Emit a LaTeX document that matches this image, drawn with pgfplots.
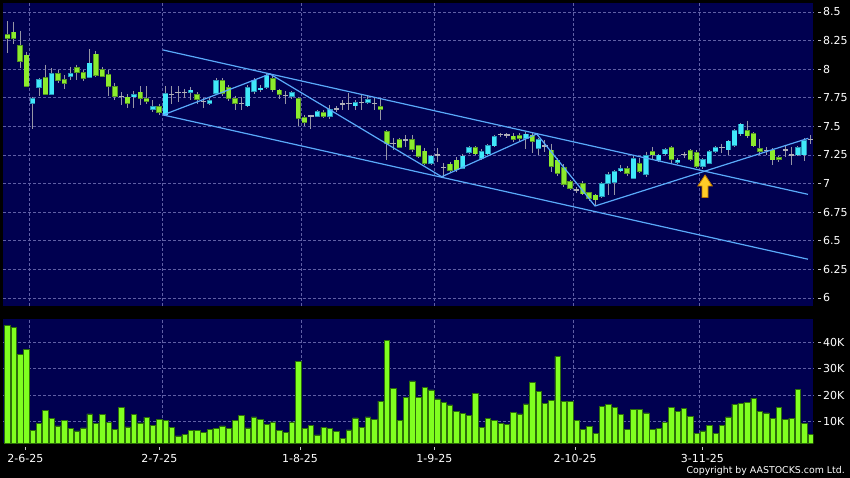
\documentclass[border=0pt]{standalone}
\usepackage{fontspec}
\setmainfont{DejaVu Sans}
\usepackage{pgfplots}
\usepackage{pgfplotstable}
\pgfplotsset{compat=1.18}
\definecolor{navy}{RGB}{0,0,80}
\definecolor{gridc}{RGB}{95,95,165}
\definecolor{upfill}{RGB}{64,232,250}
\definecolor{upedge}{RGB}{40,150,185}
\definecolor{dnfill}{RGB}{140,235,45}
\definecolor{dnedge}{RGB}{85,150,35}
\definecolor{wickc}{RGB}{150,150,165}
\definecolor{dojic}{RGB}{175,175,185}
\definecolor{volfill}{RGB}{128,255,32}
\definecolor{voledge}{RGB}{45,110,10}
\definecolor{trend}{RGB}{90,170,250}
\definecolor{arrowfill}{RGB}{255,205,40}
\definecolor{arrowedge}{RGB}{190,120,0}
\definecolor{tickc}{RGB}{200,200,200}

\pgfplotstableread{
i o h l c
0 7.702 7.76 7.48 7.746
1 7.842 7.92 7.77 7.906
3 7.78 8.01 7.78 7.959
6 7.94 8.02 7.906 7.96
9 7.924 8.177 7.924 8.054
16 7.76 7.81 7.66 7.78
19 7.65 7.73 7.63 7.67
21 7.60 7.85 7.60 7.79
25 7.797 7.84 7.73 7.818
28 7.70 7.75 7.69 7.725
29 7.789 7.92 7.78 7.899
34 7.678 7.86 7.67 7.842
35 7.803 7.92 7.78 7.905
36 7.82 7.86 7.80 7.835
37 7.841 7.97 7.83 7.943
41 7.76 7.81 7.74 7.797
45 7.585 7.645 7.58 7.63
47 7.59 7.687 7.562 7.65
51 7.678 7.73 7.64 7.707
53 7.71 7.775 7.70 7.737
63 7.177 7.25 7.16 7.241
68 7.135 7.26 7.13 7.241
69 7.27 7.33 7.26 7.314
71 7.22 7.30 7.21 7.283
72 7.259 7.345 7.25 7.33
73 7.329 7.425 7.32 7.41
78 7.393 7.45 7.30 7.433
80 7.308 7.40 7.25 7.387
90 6.886 7.01 6.87 6.997
91 7.0 7.10 6.90 7.08
92 7.01 7.12 6.90 7.104
93 7.11 7.16 7.10 7.133
95 7.046 7.24 7.04 7.221
97 7.08 7.28 7.06 7.243
99 7.20 7.26 7.19 7.25
100 7.259 7.31 7.25 7.30
102 7.183 7.22 7.17 7.206
106 7.148 7.22 7.13 7.212
107 7.177 7.29 7.17 7.279
108 7.279 7.33 7.27 7.314
110 7.294 7.38 7.25 7.372
111 7.33 7.475 7.32 7.463
112 7.434 7.53 7.42 7.521
121 7.25 7.33 7.24 7.317
122 7.25 7.395 7.20 7.375
}\up

\pgfplotstableread{
i o h l c
-4 8.30 8.42 8.14 8.27
-3 8.325 8.415 8.22 8.27
-2 8.21 8.334 8.007 8.066
-1 8.124 8.153 7.84 7.847
2 7.929 8.04 7.78 7.78
4 7.959 7.99 7.876 7.90
5 7.906 7.95 7.83 7.876
7 8.016 8.04 7.906 7.97
8 7.97 7.995 7.90 7.92
10 8.133 8.16 7.93 7.945
11 7.995 8.02 7.93 7.936
12 7.95 7.99 7.77 7.847
13 7.85 7.88 7.73 7.76
15 7.757 7.78 7.66 7.701
17 7.80 7.85 7.69 7.745
18 7.745 7.85 7.70 7.72
20 7.67 7.70 7.60 7.62
26 7.78 7.80 7.70 7.736
30 7.899 7.92 7.765 7.789
31 7.838 7.86 7.72 7.745
32 7.745 7.77 7.643 7.70
38 7.92 7.95 7.80 7.818
39 7.818 7.83 7.736 7.78
42 7.745 7.76 7.50 7.57
43 7.579 7.60 7.50 7.535
46 7.622 7.64 7.57 7.59
55 7.672 7.745 7.56 7.65
56 7.454 7.47 7.21 7.346
58 7.387 7.40 7.31 7.317
60 7.387 7.425 7.28 7.30
61 7.33 7.34 7.22 7.235
62 7.285 7.31 7.16 7.177
66 7.171 7.19 7.10 7.113
67 7.206 7.23 7.10 7.119
70 7.314 7.33 7.25 7.259
76 7.416 7.44 7.366 7.387
77 7.42 7.44 7.37 7.393
79 7.425 7.44 7.265 7.366
82 7.294 7.35 7.10 7.148
83 7.206 7.22 7.07 7.09
84 7.14 7.17 6.97 6.995
85 7.017 7.03 6.94 6.959
87 6.997 7.02 6.90 6.909
88 6.921 6.93 6.85 6.871
89 6.90 6.91 6.80 6.857
94 7.133 7.15 7.07 7.09
96 7.177 7.22 7.09 7.104
98 7.279 7.32 7.21 7.25
101 7.314 7.33 7.183 7.212
104 7.288 7.30 7.20 7.212
105 7.27 7.29 7.14 7.148
113 7.463 7.55 7.40 7.416
114 7.44 7.45 7.32 7.329
115 7.308 7.387 7.25 7.279
117 7.294 7.31 7.163 7.206
118 7.23 7.24 7.19 7.212
}\down

\pgfplotstableread{
i p h l
14 7.76 7.80 7.69
22 7.78 7.85 7.70
23 7.797 7.85 7.71
24 7.797 7.83 7.745
27 7.716 7.75 7.66
33 7.70 7.76 7.64
40 7.77 7.81 7.70
44 7.59 7.60 7.48
48 7.65 7.68 7.63
49 7.695 7.73 7.64
50 7.70 7.79 7.64
52 7.71 7.775 7.64
54 7.70 7.76 7.64
57 7.35 7.40 7.29
59 7.38 7.425 7.323
64 7.25 7.31 7.19
65 7.14 7.18 7.06
74 7.428 7.44 7.41
75 7.425 7.44 7.40
81 7.33 7.38 7.28
86 6.944 6.97 6.915
103 7.256 7.28 7.22
109 7.314 7.35 7.265
116 7.29 7.32 7.25
119 7.294 7.33 7.235
120 7.25 7.32 7.163
123 7.387 7.425 7.35
}\doji

\pgfplotstableread{
i v
-4 46.5
-3 45.7
-2 35.4
-1 37.2
0 6.75
1 9.4
2 14.3
3 11.4
4 8.4
5 10.6
6 7.5
7 6.5
8 7.7
9 13.0
10 9.4
11 12.9
12 9.8
13 7.2
14 15.5
15 8.1
16 12.8
17 9.6
18 11.7
19 8.5
20 10.8
21 10.5
22 8.0
23 4.7
24 5.1
25 6.6
26 6.75
27 6.1
28 7.1
29 7.6
30 8.4
31 7.6
32 10.4
33 12.4
34 7.7
35 11.8
36 10.9
37 9.1
38 9.9
39 6.75
40 6.1
41 9.9
42 32.9
43 7.5
44 8.5
45 5.0
46 7.9
47 7.4
48 6.4
49 3.85
50 6.9
51 11.5
52 8.0
53 11.8
54 11.0
55 17.8
56 40.6
57 22.6
58 10.4
59 19.1
60 25.4
61 19.1
62 23.0
63 22.0
64 18.6
65 17.3
66 16.4
67 14.0
68 13.2
69 12.3
70 20.8
71 7.9
72 11.4
73 10.4
74 9.25
75 9.1
76 13.4
77 13.0
78 16.7
79 24.9
80 21.5
81 16.9
82 18.1
83 34.7
84 17.8
85 17.7
86 10.4
87 7.0
88 8.3
89 5.7
90 15.9
91 16.6
92 15.5
93 12.8
94 7.2
95 14.8
96 14.8
97 13.3
98 7.1
99 7.5
100 9.8
101 15.4
102 13.9
103 15.0
104 12.0
105 5.7
106 6.5
107 8.5
108 5.6
109 8.5
110 11.8
111 16.6
112 16.9
113 17.4
114 18.9
115 13.9
116 13.3
117 11.3
118 15.4
119 11.0
120 11.4
121 22.3
122 9.4
123 5.25
}\vol

\pgfplotsset{
  common/.style={
    scale only axis, width=810.3pt,
    xmin=-4.70, xmax=123.45,
    axis background/.style={fill=navy},
    axis line style={draw=none},
    grid style={draw=gridc, dash pattern=on 3pt off 2pt, line width=0.7pt},
    xmajorgrids, ymajorgrids,
    xtick={-0.5,20.5,42.5,63.5,85.5,105.5},
    xticklabels={},
    ytick pos=right,
    xtick pos=bottom,
    tick align=outside,
    major tick length=3pt,
    xtick style={draw=none},
    ytick style={draw=tickc, line width=0.8pt, xshift=5pt},
    yticklabel style={anchor=west, text=white, font=\fontsize{11}{13}\selectfont, inner sep=0pt, xshift=6.5pt},
  },
  wick/.style={draw=none, forget plot,
    error bars/.cd, y dir=minus, y explicit, error mark=none,
    error bar style={draw=wickc, line width=1pt}},
}

\begin{document}
\begin{tikzpicture}
\fill[black] (0pt,0pt) rectangle (850pt,478pt);
\useasboundingbox (0pt,0pt) rectangle (850pt,478pt);

% ---------- price panel ----------
\begin{axis}[common,
  at={(3pt,475pt)}, anchor=north west,
  height=303pt,
  ymin=5.930, ymax=8.5787,
  ytick={6,6.25,6.5,6.75,7,7.25,7.5,7.75,8,8.25,8.5},
  yticklabels={6,6.25,6.5,6.75,7,7.25,7.5,7.75,8,8.25,8.5},
]
% wicks
\addplot[wick] table[x=i, y=h, y error expr=\thisrow{h}-\thisrow{l}] {\up};
\addplot[wick] table[x=i, y=h, y error expr=\thisrow{h}-\thisrow{l}] {\down};
\addplot[wick] table[x=i, y=h, y error expr=\thisrow{h}-\thisrow{l}] {\doji};
% up bodies
\addplot[draw=none, error bars/.cd, y dir=both, y explicit, error mark=none,
  error bar style={draw=upedge, line width=5.4pt}]
  table[x=i, y expr=(\thisrow{o}+\thisrow{c})/2, y error expr=(\thisrow{c}-\thisrow{o})/2+0.004] {\up};
\addplot[draw=none, error bars/.cd, y dir=both, y explicit, error mark=none,
  error bar style={draw=upfill, line width=4.3pt}]
  table[x=i, y expr=(\thisrow{o}+\thisrow{c})/2, y error expr=(\thisrow{c}-\thisrow{o})/2-0.0035] {\up};
% down bodies
\addplot[draw=none, error bars/.cd, y dir=both, y explicit, error mark=none,
  error bar style={draw=dnedge, line width=5.4pt}]
  table[x=i, y expr=(\thisrow{o}+\thisrow{c})/2, y error expr=(\thisrow{o}-\thisrow{c})/2+0.004] {\down};
\addplot[draw=none, error bars/.cd, y dir=both, y explicit, error mark=none,
  error bar style={draw=dnfill, line width=4.3pt}]
  table[x=i, y expr=(\thisrow{o}+\thisrow{c})/2, y error expr=(\thisrow{o}-\thisrow{c})/2-0.0035] {\down};
% doji
\addplot[draw=none, error bars/.cd, x dir=both, x fixed=0.42, error mark=none,
  error bar style={draw=dojic, line width=1.5pt}]
  table[x=i, y=p] {\doji};
% trend lines
\addplot[trend, line width=1.2pt] coordinates {(20.61,8.168) (122.6,6.906)};
\addplot[trend, line width=1.2pt] coordinates {(20.61,7.600) (122.6,6.339)};
\addplot[trend, line width=1.2pt] coordinates {(20.61,7.600) (37.53,7.958) (64.68,7.060) (79.71,7.434) (88.93,6.804) (122.66,7.396)};
% arrow
\addplot[fill=arrowfill, draw=arrowedge, line width=0.8pt] coordinates {
 (106.33,7.075) (107.47,6.979) (106.80,6.979) (106.80,6.878)
 (105.86,6.878) (105.86,6.979) (105.19,6.979)} -- cycle;
\end{axis}

% ---------- volume panel ----------
\begin{axis}[common,
  at={(3pt,159pt)}, anchor=north west,
  height=124.3pt,
  ymin=1.85, ymax=48.8,
  ytick={10,20,30,40},
  yticklabels={10K,20K,30K,40K},
  extra x ticks={-1.17,20.02,42.27,63.51,85.77,105.9},
  extra x tick labels={2-6-25,2-7-25,1-8-25,1-9-25,2-10-25,3-11-25},
  extra x tick style={grid=none, xtick style={draw=tickc, line width=0.8pt, yshift=-3.4pt}},
  xticklabel style={anchor=north, text=white, font=\fontsize{11}{13}\selectfont, inner sep=0pt, yshift=-8pt},
]
\addplot[ybar, bar shift=0pt, bar width=5.4pt, fill=volfill, draw=voledge, line width=0.5pt]
  table[x=i, y=v] {\vol};
\end{axis}

\node[anchor=base east, text=white, font=\fontsize{9.4}{11}\selectfont, inner sep=0pt]
  at (845pt,4.3pt) {Copyright by AASTOCKS.com Ltd.};
\end{tikzpicture}
\end{document}
